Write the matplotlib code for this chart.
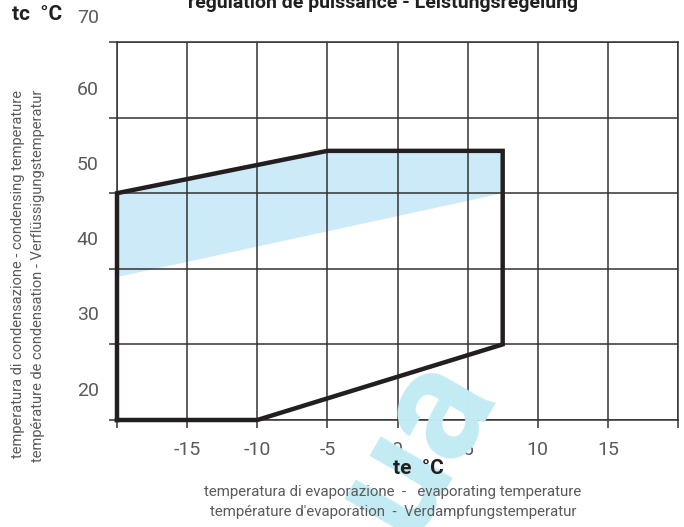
import numpy as np
import matplotlib
matplotlib.use("Agg")
import matplotlib.pyplot as plt

# ---------------------------------------------------------------- data
te_grid = [-20, -15, -10, -5, 0, 5, 10, 15, 20]
te_labels = ["", "-15", "-10", "-5", "0", "5", "10", "15", ""]
tc_grid = [15, 25, 35, 45, 55, 65]
tc_labels = ["20", "30", "40", "50", "60", "70"]
tc_label_pos = [18.9, 28.9, 38.8, 48.7, 58.6, 68.2]

# envelope outline (te, tc)
env_te = [-20, -10, 7.5, 7.5, -5, -20, -20]
env_tc = [15, 15, 25, 50.6, 50.6, 45, 15]

# capacity-regulation zone (shaded)
reg_te = [-20, -20, -5, 7.5, 7.5]
reg_tc = [33.9, 45, 50.6, 50.6, 45]

FONT = ["Roboto", "DejaVu Sans"]
plt.rcParams["font.family"] = FONT
TXT = "#5a5a5a"

fig = plt.figure(figsize=(6.84, 5.27), dpi=100)
ax = fig.add_axes([117/684, 107/527, 561/684, 378/527])

ax.fill(reg_te, reg_tc, color="#cdeaf9", lw=0, zorder=1)
ax.plot(env_te, env_tc, color="#231f20", lw=3.2, solid_joinstyle="miter",
        zorder=4, clip_on=False)

ax.set_xlim(-20, 20)
ax.set_ylim(15, 65)
ax.set_xticks(te_grid)
ax.set_xticklabels(te_labels)
ax.set_yticks(tc_grid)
ax.set_yticklabels([])
ax.grid(True, color="#333333", lw=1.1, zorder=2)
ax.set_axisbelow(False)
for s in ax.spines.values():
    s.set_color("#333333"); s.set_linewidth(1.1)
ax.tick_params(axis="both", direction="out", length=6, width=1.1,
               color="#333333", labelsize=14, labelcolor=TXT, pad=9)
ax.tick_params(axis="y", pad=2)

for v, lab in zip(tc_label_pos, tc_labels):
    ax.text(-0.052, v, lab, transform=ax.get_yaxis_transform(), ha="center",
            va="center", fontsize=14, color=TXT, clip_on=False)

# watermark
fig.text(415/684, 1 - 443/527, "ua", rotation=60, fontsize=114,
         fontweight="bold", color="#c3ebf3", ha="center", va="center",
         zorder=0)

fig.text(383/684, 1 - 8/527, "régulation de puissance - Leistungsregelung",
         ha="center", va="baseline", fontsize=14, fontweight="bold",
         color="#231f20")
fig.text(12/684, 1 - 15/527, "tc  °C", ha="left", va="center", fontsize=15,
         fontweight="bold", color="#231f20")
fig.text(418/684, 1 - 468/527, "te  °C", ha="center", va="center", fontsize=15,
         fontweight="bold", color="#231f20")
fig.text(393/684, 1 - 492/527,
         "temperatura di evaporazione  -   evaporating temperature",
         ha="center", va="center", fontsize=10.8, color=TXT)
fig.text(393/684, 1 - 512/527,
         "température d'evaporation  -  Verdampfungstemperatur",
         ha="center", va="center", fontsize=10.8, color=TXT)
fig.text(18/684, 1 - 274/527,
         "temperatura di condensazione - condensing temperature",
         rotation=90, ha="center", va="center", fontsize=10.5, color=TXT)
fig.text(38/684, 1 - 276/527,
         "température de condensation - Verflüssigungstemperatur",
         rotation=90, ha="center", va="center", fontsize=10.5, color=TXT)

fig.savefig("out.png", dpi=100)
